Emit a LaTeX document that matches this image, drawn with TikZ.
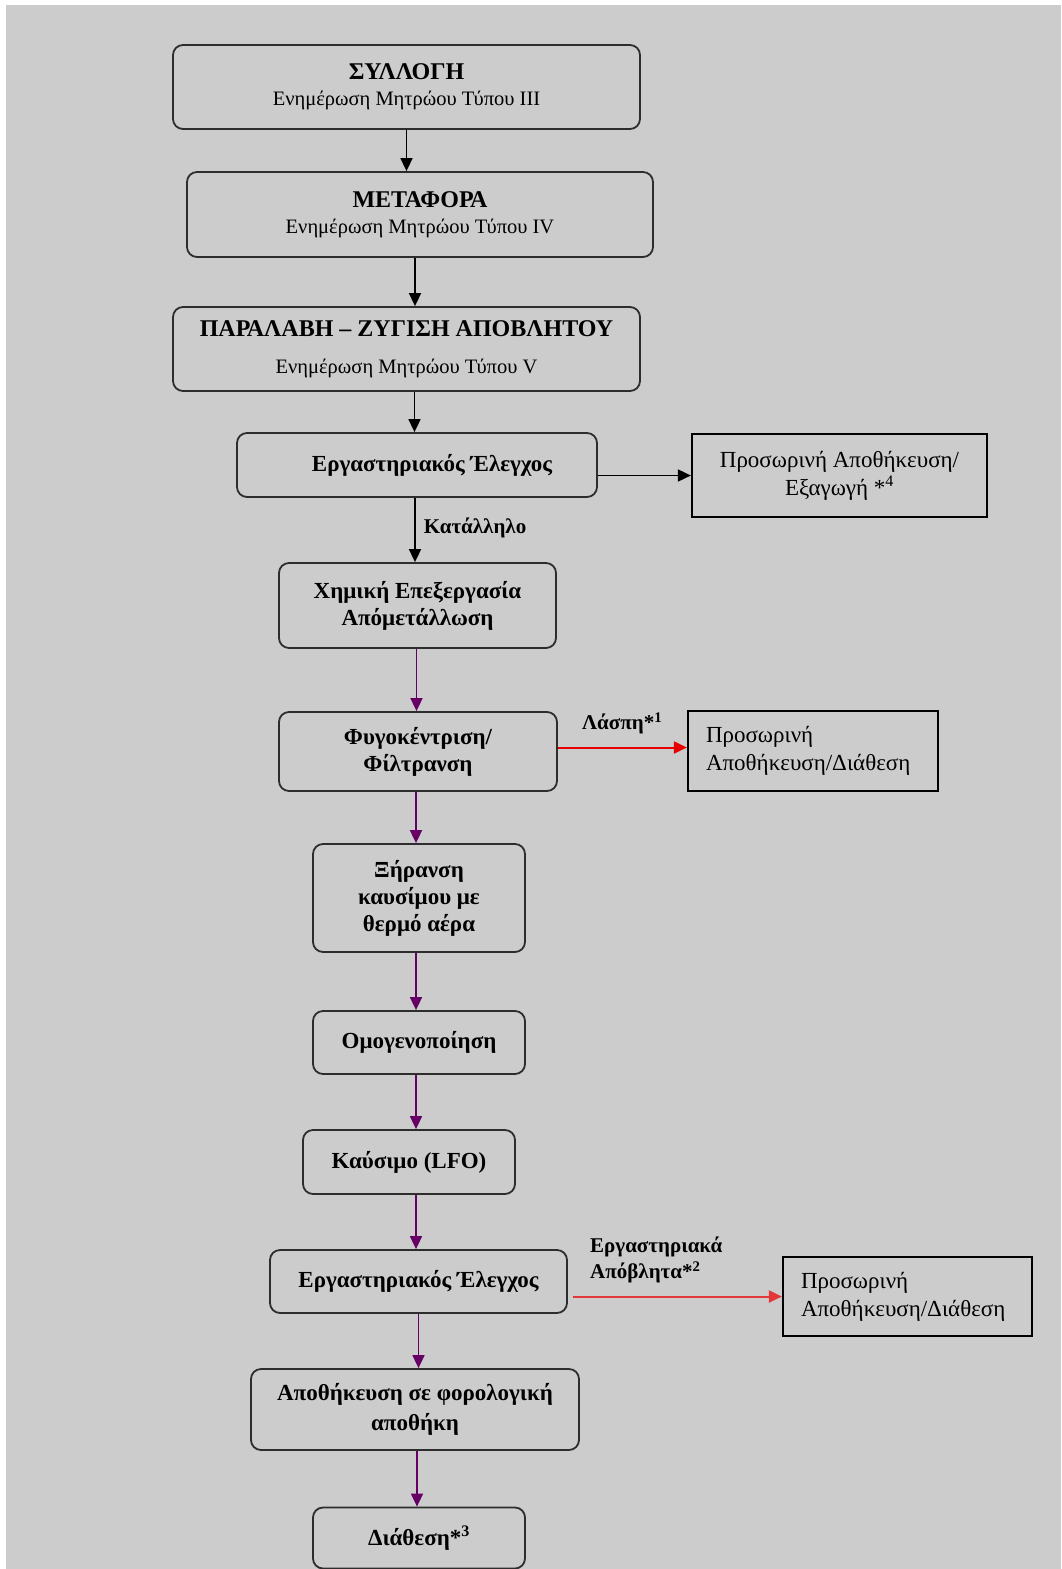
\documentclass[tikz,border=0pt]{standalone}
\usepackage{fontspec}
\setmainfont{Liberation Serif}
\usetikzlibrary{arrows.meta}
\definecolor{bg}{RGB}{204,204,204}
\definecolor{boxc}{RGB}{45,45,45}
\definecolor{purp}{RGB}{102,0,102}
\definecolor{redA}{RGB}{230,0,0}
\definecolor{redB}{RGB}{228,55,55}
\begin{document}
\begin{tikzpicture}[x=1pt,y=-1pt,
  proc/.style={draw=boxc, line width=1.8pt, rounded corners=10pt, align=center,
    inner sep=0pt, font=\fontsize{23}{27}\selectfont\bfseries},
  side/.style={draw=black, line width=2.2pt, inner sep=0pt,
    font=\fontsize{23}{28}\selectfont},
  lbl/.style={inner sep=0pt, anchor=west, align=left, font=\fontsize{21}{26}\selectfont\bfseries},
  arr/.style={line width=1.7pt, -{Triangle[length=13pt,width=12pt]}},
  parr/.style={arr, draw=purp, fill=purp},
  rarr/.style={arr, line width=2pt},
]
\useasboundingbox (0,0) rectangle (1061,1569);
\fill[white] (0,0) rectangle (1061,1569);
\fill[bg] (6,5) rectangle (1061,1569);

% main column
\node[proc, minimum width=467pt, minimum height=84pt] (b1) at (406.5,87)
  {{\fontsize{24}{27}\selectfont ΣΥΛΛΟΓΗ}\\[-1pt]{\fontsize{20.5}{24}\selectfont\mdseries Ενημέρωση Μητρώου Τύπου ΙΙΙ}};
\node[proc, minimum width=466pt, minimum height=85pt] (b2) at (420,214.5)
  {{\fontsize{24}{27}\selectfont ΜΕΤΑΦΟΡΑ}\\[-1pt]{\fontsize{20.5}{24}\selectfont\mdseries Ενημέρωση Μητρώου Τύπου IV}};
\node[proc, minimum width=467pt, minimum height=84pt] (b3) at (406.5,349)
  {{\fontsize{24}{27}\selectfont ΠΑΡΑΛΑΒΗ – ΖΥΓΙΣΗ ΑΠΟΒΛΗΤΟΥ}\\[10pt]{\fontsize{20.5}{24}\selectfont\mdseries Ενημέρωση Μητρώου Τύπου V}};
\node[proc, minimum width=360pt, minimum height=64pt] (b4) at (417,465)
  {\hspace*{30pt}Εργαστηριακός Έλεγχος};
\node[proc, minimum width=277pt, minimum height=85pt] (b5) at (417.5,605.5)
  {Χημική Επεξεργασία\\Απόμετάλλωση};
\node[proc, minimum width=278pt, minimum height=79pt] (b6) at (418,751.5)
  {Φυγοκέντριση/\\Φίλτρανση};
\node[proc, minimum width=212pt, minimum height=108pt] (b7) at (419,898)
  {Ξήρανση\\καυσίμου με\\θερμό αέρα};
\node[proc, minimum width=212pt, minimum height=63pt] (b8) at (419,1042.5)
  {Ομογενοποίηση};
\node[proc, minimum width=212pt, minimum height=64pt] (b9) at (409,1162)
  {Καύσιμο (LFO)};
\node[proc, minimum width=297pt, minimum height=63pt] (b10) at (418.5,1281.5)
  {Εργαστηριακός Έλεγχος};
\node[proc, minimum width=328pt, minimum height=81pt, font=\fontsize{23}{30}\selectfont\bfseries] (b11) at (415,1409.5)
  {Αποθήκευση σε φορολογική\\αποθήκη};
\node[proc, minimum width=212pt, minimum height=61pt] (b12) at (419,1538)
  {Διάθεση*\textsuperscript{3}};

% side boxes
\node[side, minimum width=295pt, minimum height=83pt, align=center] (s1) at (839.5,475.5)
  {Προσωρινή Αποθήκευση/\\Εξαγωγή *\textsuperscript{4}};
\node[side, minimum width=250pt, minimum height=80pt, align=left, text width=214pt] (s2) at (813,751)
  {Προσωρινή\\Αποθήκευση/Διάθεση};
\node[side, minimum width=249pt, minimum height=79pt, align=left, text width=213pt] (s3) at (907.5,1296.5)
  {Προσωρινή\\Αποθήκευση/Διάθεση};

% black connectors
\draw[arr] (b1.south) -- (b1.south |- b2.north);
\draw[arr] ([xshift=-5pt]b2.south) -- ([xshift=-5pt]b2.south |- b3.north);
\draw[arr] ([xshift=8pt]b3.south) -- ([xshift=8pt]b3.south |- b4.north);
\draw[arr] ([xshift=-2pt]b4.south) -- ([xshift=-2pt]b4.south |- b5.north)
  node[lbl, pos=0.47, xshift=8pt] (l1) {Κατάλληλο};
\draw[arr] (b4.east |- s1.west) -- (s1.west);

% purple connectors
\draw[parr] ([xshift=-1pt]b5.south) -- ([xshift=-1pt]b5.south |- b6.north);
\draw[parr] ([xshift=-2pt]b6.south) -- ([xshift=-2pt]b6.south |- b7.north);
\draw[parr] ([xshift=-3pt]b7.south) -- ([xshift=-3pt]b7.south |- b8.north);
\draw[parr] ([xshift=-3pt]b8.south) -- ([xshift=-3pt]b8.south |- b9.north);
\draw[parr] ([xshift=7pt]b9.south) -- ([xshift=7pt]b9.south |- b10.north);
\draw[parr] (b10.south) -- (b10.south |- b11.north);
\draw[parr] ([xshift=2pt]b11.south) -- ([xshift=2pt]b11.south |- b12.north);

% red connectors
\draw[rarr, draw=redA, fill=redA] ([yshift=4pt]b6.east) -- ([yshift=4pt]b6.east -| s2.west)
  node[lbl, pos=0.18, yshift=24pt] (l2) {Λάσπη*\textsuperscript{1}};
\draw[rarr, draw=redB, fill=redB] ([xshift=5pt]b10.east |- s3.west) -- (s3.west);
\node[lbl] (l3) at (590,1260) {Εργαστηριακά\\Απόβλητα*\textsuperscript{2}};
\end{tikzpicture}
\end{document}
